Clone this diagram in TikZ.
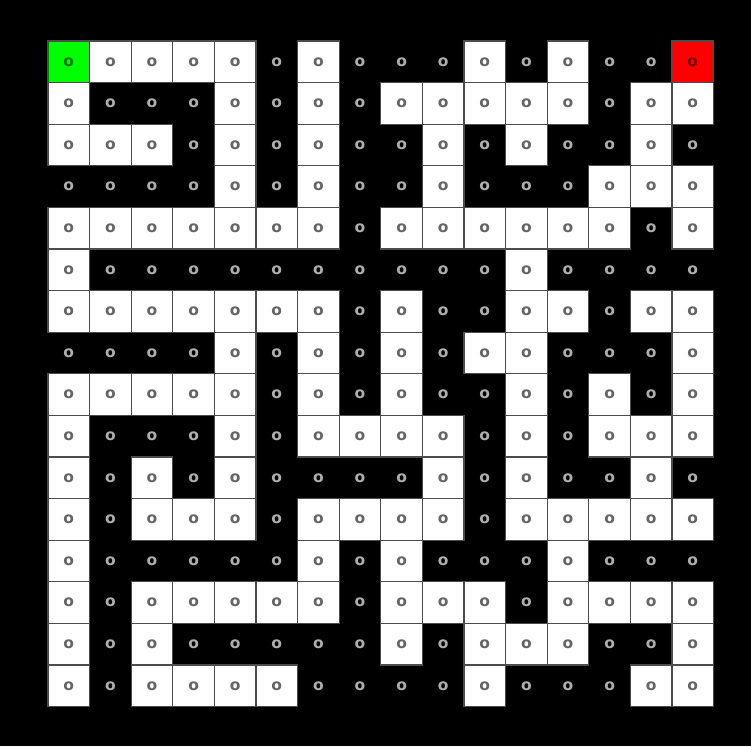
\documentclass[tikz,border=0pt]{standalone}
\usepackage{fontspec}
\setmainfont{DejaVu Sans}
\begin{document}
\begin{tikzpicture}[x=1pt,y=-1pt,
  cellbase/.style={minimum size=41.6pt,inner sep=0pt,outer sep=0pt,font=\fontsize{15.5}{15.5}\selectfont\bfseries},
  bcell/.style={cellbase,text=white!68!black},
  wcell/.style={cellbase,fill=white,draw=black!70,line width=1.1pt,text=black!60},
  gcell/.style={cellbase,fill=green,draw=black!70,line width=1.1pt,text=green!45!black},
  rcell/.style={cellbase,fill=red,draw=black!70,line width=1.1pt,text=red!45!black}]
\fill[black] (0,0) rectangle (751,746);
\useasboundingbox (0,0) rectangle (751,746);
\foreach \rowlist [count=\r from 0] in {
 {2,1,1,1,1,0,1,0,0,0,1,0,1,0,0,3},
 {1,0,0,0,1,0,1,0,1,1,1,1,1,0,1,1},
 {1,1,1,0,1,0,1,0,0,1,0,1,0,0,1,0},
 {0,0,0,0,1,0,1,0,0,1,0,0,0,1,1,1},
 {1,1,1,1,1,1,1,0,1,1,1,1,1,1,0,1},
 {1,0,0,0,0,0,0,0,0,0,0,1,0,0,0,0},
 {1,1,1,1,1,1,1,0,1,0,0,1,1,0,1,1},
 {0,0,0,0,1,0,1,0,1,0,1,1,0,0,0,1},
 {1,1,1,1,1,0,1,0,1,0,0,1,0,1,0,1},
 {1,0,0,0,1,0,1,1,1,1,0,1,0,1,1,1},
 {1,0,1,0,1,0,0,0,0,1,0,1,0,0,1,0},
 {1,0,1,1,1,0,1,1,1,1,0,1,1,1,1,1},
 {1,0,0,0,0,0,1,0,1,0,0,0,1,0,0,0},
 {1,0,1,1,1,1,1,0,1,1,1,0,1,1,1,1},
 {1,0,1,0,0,0,0,0,1,0,1,1,1,0,0,1},
 {1,0,1,1,1,1,0,0,0,0,1,0,0,0,1,1}} {
  \foreach \v [count=\c from 0] in \rowlist {
    \pgfmathsetmacro{\px}{48+41.6*\c+20.8}
    \pgfmathsetmacro{\py}{41+41.6*\r+20.8}
    \ifcase\v
      \node[bcell] (c-\r-\c) at (\px,\py) {o};
    \or
      \node[wcell] (c-\r-\c) at (\px,\py) {o};
    \or
      \node[gcell] (c-\r-\c) at (\px,\py) {o};
    \or
      \node[rcell] (c-\r-\c) at (\px,\py) {o};
    \fi
  }
}
\end{tikzpicture}
\end{document}
